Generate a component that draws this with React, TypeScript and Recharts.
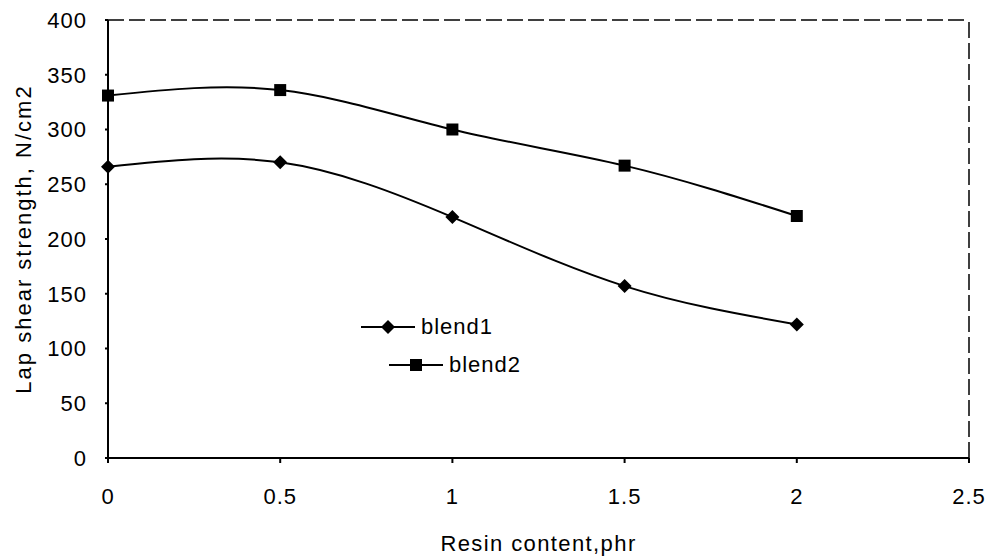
import { Line, LineChart, ReferenceLine, XAxis, YAxis } from "recharts";

const resin = [0, 0.5, 1, 1.5, 2];
const blend1 = [266, 270, 220, 157, 122];
const blend2 = [331, 336, 300, 267, 221];
const xTicks = [0, 0.5, 1, 1.5, 2, 2.5];
const yTicks = [0, 50, 100, 150, 200, 250, 300, 350, 400];

const data = resin.map((r, i) => ({ resin: r, blend1: blend1[i], blend2: blend2[i] }));

const font = "'Liberation Sans', Arial, sans-serif";
const txt = { fill: "#000", fontSize: 22, fontFamily: font, letterSpacing: 1 };

function Diamond({ cx, cy }: any) {
  if (cx == null || cy == null) return null;
  const s = 7;
  return <polygon points={`${cx},${cy - s} ${cx + s},${cy} ${cx},${cy + s} ${cx - s},${cy}`} fill="#000" />;
}

function Square({ cx, cy }: any) {
  if (cx == null || cy == null) return null;
  const s = 6;
  return <rect x={cx - s} y={cy - s} width={s * 2} height={s * 2} fill="#000" />;
}

// legend sits inside the plot area, staggered like the original
function LegendItem({ left, top, label, marker }: { left: number; top: number; label: string; marker: "d" | "s" }) {
  return (
    <div style={{ position: "absolute", left, top, display: "flex", alignItems: "center", height: 24 }}>
      <svg width={56} height={16}>
        <line x1={0} y1={8} x2={54} y2={8} stroke="#000" strokeWidth={2} />
        {marker === "d" ? <Diamond cx={27} cy={8} /> : <Square cx={27} cy={8} />}
      </svg>
      <span style={{ fontFamily: font, fontSize: 22, color: "#000", marginLeft: 4, letterSpacing: 1 }}>{label}</span>
    </div>
  );
}

export default function App() {
  return (
    <div style={{ position: "absolute", left: 0, top: 0, width: 992, height: 559, background: "#fff" }}>
      <LineChart width={992} height={559} data={data} margin={{ top: 20, right: 23, bottom: 0, left: 0 }}>
        <XAxis
          dataKey="resin"
          type="number"
          domain={[0, 2.5]}
          ticks={xTicks}
          tickSize={5}
          tickMargin={25}
          height={101}
          stroke="#000"
          strokeWidth={2}
          tick={txt}
          label={{ value: "Resin content,phr", position: "insideBottom", offset: 8, ...txt, letterSpacing: 1.4 }}
        />
        <YAxis
          type="number"
          domain={[0, 400]}
          ticks={yTicks}
          tickSize={3}
          tickMargin={18}
          width={108}
          stroke="#000"
          strokeWidth={2}
          tick={txt}
          label={{ value: "Lap shear strength, N/cm2", angle: -90, position: "insideLeft", offset: 23, style: { textAnchor: "middle" }, ...txt, letterSpacing: 2 }}
        />
        <ReferenceLine y={400} stroke="#000" strokeWidth={1.5} strokeDasharray="16 5" />
        <ReferenceLine x={2.5} stroke="#000" strokeWidth={1.5} strokeDasharray="16 5" />
        <Line
          type="natural"
          dataKey="blend1"
          stroke="#000"
          strokeWidth={2}
          dot={<Diamond />}
          activeDot={false}
          isAnimationActive={false}
        />
        <Line
          type="natural"
          dataKey="blend2"
          stroke="#000"
          strokeWidth={2}
          dot={<Square />}
          activeDot={false}
          isAnimationActive={false}
        />
      </LineChart>
      <LegendItem left={361} top={315} label="blend1" marker="d" />
      <LegendItem left={389} top={353} label="blend2" marker="s" />
    </div>
  );
}
